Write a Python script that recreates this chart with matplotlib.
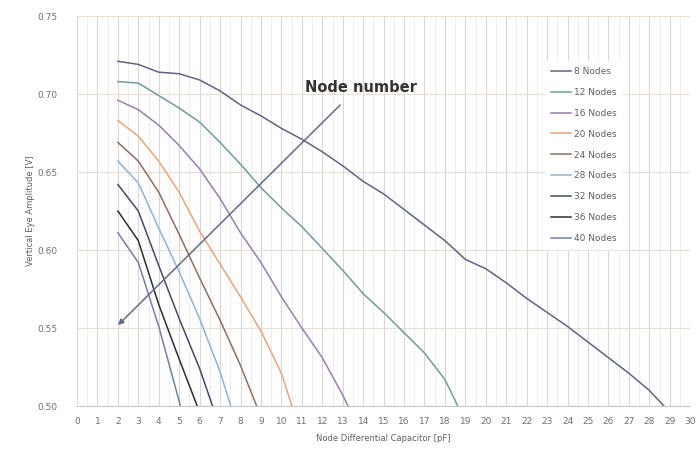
import numpy as np
import matplotlib
matplotlib.use("Agg")
import matplotlib.pyplot as plt
from matplotlib.ticker import MultipleLocator

# capacitor values [pF] and eye amplitude [V] per node count
labels = ["8 Nodes", "12 Nodes", "16 Nodes", "20 Nodes", "24 Nodes",
          "28 Nodes", "32 Nodes", "36 Nodes", "40 Nodes"]

cap_8 = list(range(2, 30))
amp_8 = [0.721, 0.719, 0.714, 0.713, 0.709, 0.702, 0.693, 0.686, 0.678, 0.671,
         0.663, 0.654, 0.644, 0.636, 0.626, 0.616, 0.606, 0.594, 0.588, 0.579,
         0.569, 0.560, 0.551, 0.541, 0.531, 0.521, 0.510, 0.496]
cap_12 = list(range(2, 20))
amp_12 = [0.708, 0.707, 0.699, 0.691, 0.682, 0.669, 0.655, 0.640, 0.627, 0.615,
          0.601, 0.587, 0.572, 0.560, 0.547, 0.534, 0.517, 0.490]
cap_16 = list(range(2, 15))
amp_16 = [0.696, 0.690, 0.680, 0.667, 0.652, 0.633, 0.611, 0.592, 0.570, 0.550,
          0.531, 0.507, 0.480]
cap_20 = list(range(2, 12))
amp_20 = [0.683, 0.673, 0.657, 0.637, 0.612, 0.591, 0.570, 0.548, 0.521, 0.480]
cap_24 = list(range(2, 10))
amp_24 = [0.669, 0.657, 0.637, 0.610, 0.582, 0.555, 0.526, 0.493]
cap_28 = list(range(2, 9))
amp_28 = [0.657, 0.643, 0.614, 0.586, 0.556, 0.522, 0.480]
cap_32 = list(range(2, 8))
amp_32 = [0.642, 0.625, 0.590, 0.556, 0.524, 0.486]
cap_36 = list(range(2, 7))
amp_36 = [0.625, 0.606, 0.565, 0.530, 0.496]
cap_40 = list(range(2, 7))
amp_40 = [0.611, 0.592, 0.551, 0.503, 0.440]

caps = [cap_8, cap_12, cap_16, cap_20, cap_24, cap_28, cap_32, cap_36, cap_40]
amps = [amp_8, amp_12, amp_16, amp_20, amp_24, amp_28, amp_32, amp_36, amp_40]
colors = ["#5e6584", "#6f9c9e", "#9a7fae", "#e8a47a", "#8c6e62",
          "#8fb3d3", "#414b68", "#2c2c3a", "#7180a2"]

fig = plt.figure(figsize=(7, 4.58), dpi=100)
ax = fig.add_axes([0.110, 0.1135, 0.876, 0.8515])

for c, a, col, lab in zip(caps, amps, colors, labels):
    ax.plot(c, a, color=col, lw=1.1, label=lab)

ax.set_xlim(0, 30)
ax.set_ylim(0.50, 0.75)
ax.xaxis.set_major_locator(MultipleLocator(1))
ax.xaxis.set_minor_locator(MultipleLocator(0.5))
ax.yaxis.set_major_locator(MultipleLocator(0.05))
ax.yaxis.set_major_formatter(plt.FormatStrFormatter("%.2f"))

ax.grid(True, which="major", axis="x", color="#d8d8d8", lw=0.8)
ax.grid(True, which="minor", axis="x", color="#ebebeb", lw=0.6)
ax.grid(True, which="major", axis="y", color="#eadfd6", lw=0.8)
ax.set_axisbelow(True)

for s in ["left", "right", "top"]:
    ax.spines[s].set_visible(False)
ax.spines["bottom"].set_color("#c8c8c8")
ax.tick_params(axis="both", which="both", length=0, labelsize=6.5,
               colors="#707070", pad=8)
ax.tick_params(axis="y", pad=14)

ax.set_xlabel("Node Differential Capacitor [pF]", fontsize=6, color="#606060",
              labelpad=6)
ax.set_ylabel("Vertical Eye Amplitude [V]", fontsize=6, color="#606060",
              labelpad=2)

ax.annotate("", xy=(1.91, 0.5506), xytext=(12.97, 0.6942),
            arrowprops=dict(arrowstyle="-|>", color="#666a88", lw=1.1,
                            mutation_scale=8))
ax.text(13.9, 0.7045, "Node number", fontsize=10.5, fontweight="bold",
        color="#333333", ha="center", va="center")

leg = ax.legend(loc="upper left", bbox_to_anchor=(0.757, 0.895), frameon=True,
                fontsize=6.5, handlelength=2.2, labelspacing=1.32,
                handletextpad=0.3, borderpad=0.6)
leg.get_frame().set_edgecolor("white")
leg.get_frame().set_facecolor("white")
leg.get_frame().set_alpha(1)
for t in leg.get_texts():
    t.set_color("#606060")

fig.savefig("out.png", dpi=100)
